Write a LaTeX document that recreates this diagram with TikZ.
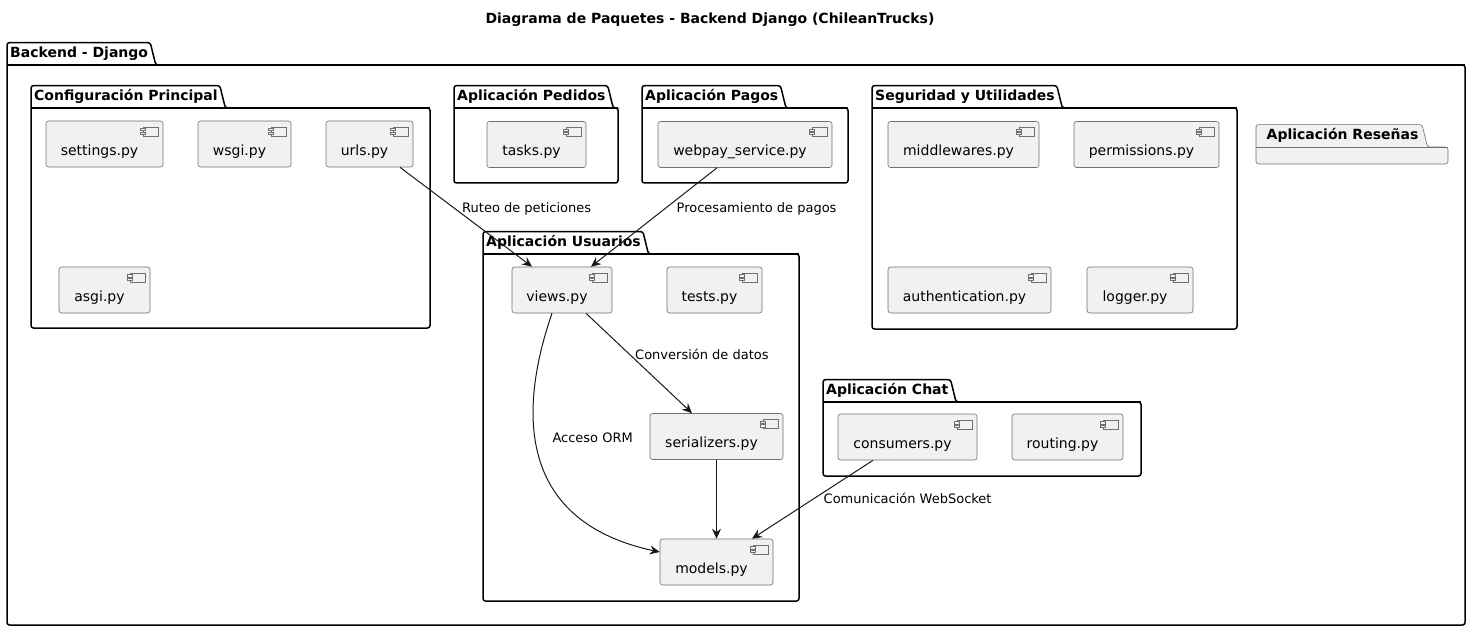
\documentclass[tikz,border=0pt]{standalone}
\usepackage{fontspec}
\setmainfont{DejaVu Sans}
\usetikzlibrary{
  arrows.meta,
  backgrounds,
  calc,
  positioning,
}
\definecolor{compfill}{RGB}{241,241,241}
\definecolor{lineblack}{RGB}{24,24,24}
\definecolor{compline}{RGB}{112,112,112}
\tikzset{
  >={Stealth[length=10pt,width=9pt,inset=3.5pt]},
  pkgline/.style={draw=black, line width=1.5pt, rounded corners=2.5pt},
  pkglinetitle/.style={},
  pkggray/.style={draw=compline, line width=0.6pt, fill=compfill, rounded corners=2.5pt},
  pkggraytitle/.style={xshift=6pt, inner xsep=1.5pt},
  pkgtitle/.style={font=\bfseries\fontsize{14}{16}\selectfont, inner sep=0pt,
    minimum height=22pt, text height=10.5pt, text depth=3.3pt},
  compname/.style={font=\fontsize{14}{16}\selectfont, xshift=-5pt, yshift=-8pt, inner sep=0pt,
    text height=10.2pt, text depth=3.3pt},
  comp/.style={draw=compline, line width=0.6pt, fill=compfill, rounded corners=2.5pt,
    minimum height=46pt, inner sep=0pt, label={[compname]center:#1},
    path picture={
      \begin{scope}[sharp corners, line width=0.6pt]
        \draw[draw=compline, fill=compfill] ([xshift=-20pt,yshift=-6pt]path picture bounding box.north east) rectangle ++(15pt,-9pt);
        \draw[draw=compline, fill=compfill] ([xshift=-23pt,yshift=-7.5pt]path picture bounding box.north east) rectangle ++(5pt,-2.3pt);
        \draw[draw=compline, fill=compfill] ([xshift=-23pt,yshift=-11pt]path picture bounding box.north east) rectangle ++(5pt,-2.3pt);
      \end{scope}}},
  flow/.style={->, draw=lineblack, line width=1pt},
  elabel/.style={font=\fontsize{13}{15}\selectfont, inner sep=0pt, anchor=base west},
}
% package outline: [style]{name}{x left}{y body top}{x right}{y bottom}{title}
\newcommand{\pkg}[7][pkgline]{%
  \node[pkgtitle, #1title, anchor=south west] (#2) at ([xshift=3pt]#3,#4) {#7};
  \begin{pgfonlayer}{background}
    \draw[#1] (#3,#6) -- (#3,#4) -- (#3,#4 |- #2.north) -- ([xshift=2pt]#2.north east)
      -- ([xshift=7.5pt]#2.south east) -- (#5,#4) -- (#5,#6) -- cycle;
    \draw[#1] (#3,#4) -- (#5,#4);
  \end{pgfonlayer}}

\begin{document}
\begin{tikzpicture}[x=1pt, y=-1pt]
  \useasboundingbox (0,0) rectangle (1471,631);
  \node[font=\bfseries\fontsize{14}{16}\selectfont, anchor=base] (title) at (710,23.3)
    {Diagrama de Paquetes - Backend Django (ChileanTrucks)};

  % packages
  \pkg{backend}{7}{65}{1465}{625}{Backend - Django}
  \pkg{config}{31}{108}{430}{328}{Configuración Principal}
  \pkg{pedidos}{454}{108}{618}{183}{Aplicación Pedidos}
  \pkg{pagos}{642}{108}{848}{183}{Aplicación Pagos}
  \pkg{seguridad}{872}{108}{1237}{329}{Seguridad y Utilidades}
  \pkg[pkggray]{resenas}{1256}{147}{1448}{164}{Aplicación Reseñas}
  \pkg{usuarios}{483}{254}{799}{601}{Aplicación Usuarios}
  \pkg{chat}{823}{402}{1141}{476}{Aplicación Chat}

  % components
  \node[comp=settings.py, minimum width=117pt] (settings) at (104.5,144) {};
  \node[comp=wsgi.py, minimum width=93pt] (wsgi) at (244.5,144) {};
  \node[comp=urls.py, minimum width=87pt] (urls) at (369.5,144) {};
  \node[comp=asgi.py, minimum width=91pt] (asgi) at (104.5,290) {};
  \node[comp=tasks.py, minimum width=99pt] (tasks) at (536.5,144.5) {};
  \node[comp=webpay\_service.py, minimum width=174pt] (webpay) at (745,144.5) {};
  \node[comp=middlewares.py, minimum width=151pt] (middlewares) at (963.5,144.5) {};
  \node[comp=permissions.py, minimum width=145pt] (permissions) at (1146.5,144.5) {};
  \node[comp=authentication.py, minimum width=163pt] (authentication) at (969.5,290) {};
  \node[comp=logger.py, minimum width=106pt] (logger) at (1140,290) {};
  \node[comp=views.py, minimum width=100pt] (views) at (562,290) {};
  \node[comp=tests.py, minimum width=95pt] (tests) at (714.5,290) {};
  \node[comp=serializers.py, minimum width=133pt] (serializers) at (716.5,436.5) {};
  \node[comp=models.py, minimum width=113pt] (models) at (716.5,562) {};
  \node[comp=consumers.py, minimum width=139pt] (consumers) at (907.5,437) {};
  \node[comp=routing.py, minimum width=111pt] (routing) at (1067.5,437) {};

  % connectors
  \draw[flow] ([xshift=30.5pt]urls.south) -- ([xshift=-30pt]views.north);
  \draw[flow] ([xshift=-28pt]webpay.south) -- ([xshift=29pt]views.north);
  \draw[flow] ([xshift=24pt]views.south) -- ([xshift=-24.5pt]serializers.north);
  \draw[flow] ([xshift=-10pt]views.south) .. controls (522,400) and (510,520) .. ([yshift=10pt]models.west);
  \draw[flow] (serializers) -- (models);
  \draw[flow] ([xshift=-34.5pt]consumers.south) -- ([xshift=35.5pt]models.north);

  \node[elabel] (ruteo) at (462,212.3) {Ruteo de peticiones};
  \node[elabel] (procesa) at (676.5,212.3) {Procesamiento de pagos};
  \node[elabel] (conversion) at (635,359) {Conversión de datos};
  \node[elabel] (orm) at (552.3,442) {Acceso ORM};
  \node[elabel] (websocket) at (823.5,503.3) {Comunicación WebSocket};
\end{tikzpicture}
\end{document}
